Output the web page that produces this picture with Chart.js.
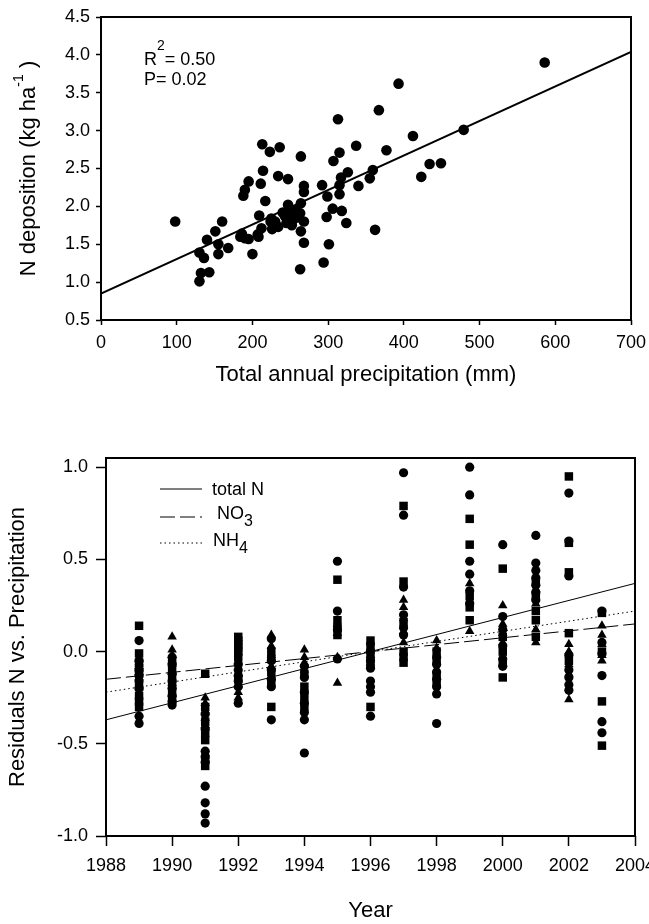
<!DOCTYPE html>
<html>
<head>
<meta charset="utf-8">
<script src="https://cdn.jsdelivr.net/npm/chart.js@4.4.1/dist/chart.umd.min.js"></script>
<style>
  body { margin: 0; background: #fff; }
  canvas { position: absolute; left: 0; }
  #top { top: 0; }
  #bottom { top: 420px; }
</style>
</head>
<body>
<canvas id="top" width="649" height="400"></canvas>
<canvas id="bottom" width="649" height="504"></canvas>
<script>
// upper panel: N deposition vs annual precipitation
const precip = [98, 213, 223, 236, 264, 313, 367, 337, 377, 315, 307, 214, 195, 211, 234, 247,
  190, 188, 217, 268, 268, 292, 326, 317, 315, 359, 355, 340, 299, 315, 247, 264, 209, 225,
  234, 243, 252, 261, 268, 252, 264, 268, 306, 298, 318, 324, 362, 301, 294, 263, 200, 186,
  195, 208, 212, 184, 160, 151, 140, 155, 168, 155, 130, 136, 143, 132, 130, 586, 393, 479,
  412, 434, 449, 423, 230, 240, 257, 226, 258, 245, 190, 207, 250, 263, 224];
const deposition = [1.80, 2.82, 2.72, 2.78, 2.66, 3.15, 3.27, 2.80, 2.74, 2.71, 2.60, 2.47, 2.33,
  2.30, 2.40, 2.36, 2.22, 2.14, 2.07, 2.27, 2.19, 2.28, 2.45, 2.38, 2.28, 2.48, 2.37, 2.27,
  2.13, 2.16, 2.02, 2.04, 1.88, 1.84, 1.73, 1.87, 1.80, 1.89, 1.80, 1.75, 1.67, 1.52, 1.97,
  1.86, 1.94, 1.78, 1.69, 1.50, 1.26, 1.17, 1.37, 1.64, 1.57, 1.60, 1.71, 1.60, 1.80, 1.67,
  1.56, 1.50, 1.45, 1.37, 1.39, 1.32, 1.13, 1.12, 1.01, 3.90, 3.62, 3.01, 2.93, 2.56, 2.57,
  2.39, 1.80, 1.92, 1.95, 1.70, 1.85, 1.78, 1.58, 1.63, 1.93, 1.91, 1.80];
const fitX = [0, 700];
const fitY = [0.85, 4.04];
const precipTicks = [0, 100, 200, 300, 400, 500, 600, 700];
const depositionTicks = [0.5, 1.0, 1.5, 2.0, 2.5, 3.0, 3.5, 4.0, 4.5];

// lower panel: residuals by year (one list per year)
const years = [1989, 1990, 1991, 1992, 1993, 1994, 1995, 1996, 1997, 1998, 1999, 2000, 2001, 2002, 2003];
const residTotalN = [
  [0.06, -0.05, -0.10, -0.13, -0.16, -0.20, -0.35, -0.39],
  [-0.03, -0.07, -0.12, -0.16, -0.20, -0.24, -0.27, -0.29],
  [-0.34, -0.42, -0.54, -0.57, -0.60, -0.73, -0.82, -0.88, -0.93],
  [-0.07, -0.10, -0.13, -0.16, -0.19, -0.28],
  [0.07, -0.05, -0.10, -0.15, -0.19, -0.37],
  [-0.08, -0.14, -0.22, -0.28, -0.33, -0.37, -0.55],
  [0.49, 0.22, 0.12, -0.04],
  [0.0, -0.05, -0.09, -0.16, -0.19, -0.22, -0.35],
  [0.97, 0.74, 0.35, 0.20, 0.13, 0.09],
  [-0.03, -0.07, -0.11, -0.15, -0.19, -0.23, -0.39],
  [1.0, 0.85, 0.49, 0.42, 0.33, 0.26],
  [0.58, 0.19, 0.12, 0.03, -0.04, -0.08],
  [0.63, 0.48, 0.44, 0.40, 0.36, 0.32, 0.28],
  [0.86, 0.60, 0.41, -0.02, -0.10, -0.14, -0.18, -0.21],
  [0.22, 0.05, -0.01, -0.13, -0.38, -0.44]
];
const residNO3 = [
  [0.14, -0.01, -0.06, -0.09, -0.12, -0.19, -0.24, -0.27, -0.30],
  [-0.06, -0.10, -0.14, -0.18, -0.22, -0.26],
  [-0.12, -0.30, -0.38, -0.44, -0.48, -0.58, -0.62],
  [0.08, 0.06, 0.04, 0.02, 0.0, -0.03, -0.15],
  [0.0, -0.04, -0.11, -0.17, -0.30],
  [-0.12, -0.19, -0.25, -0.30],
  [0.39, 0.17, 0.13, 0.09],
  [0.06, 0.03, -0.03, -0.07, -0.30],
  [0.79, 0.38, 0.16, 0.0, -0.03, -0.06],
  [0.0, -0.05, -0.13, -0.17],
  [0.72, 0.58, 0.30, 0.24, 0.17],
  [0.45, 0.08, 0.0, -0.06, -0.14],
  [0.38, 0.30, 0.22, 0.17, 0.08],
  [0.95, 0.59, 0.43, 0.10, -0.05],
  [0.21, 0.0, -0.27, -0.51]
];
const residNH4 = [
  [-0.04, -0.08, -0.11, -0.14, -0.18],
  [0.08, 0.01, -0.02, -0.05, -0.11, -0.17, -0.23],
  [-0.25, -0.28, -0.32, -0.36, -0.40],
  [-0.05, -0.12, -0.18, -0.22, -0.25],
  [0.09, 0.03, -0.02, -0.08, -0.13],
  [0.01, -0.03, -0.06, -0.10],
  [0.15, 0.10, -0.03, -0.17],
  [0.05, 0.02, -0.02, -0.06],
  [0.28, 0.24, 0.18, 0.11, 0.05],
  [0.06, 0.02],
  [0.37, 0.28, 0.11],
  [0.25, 0.15, 0.10, 0.05],
  [0.34, 0.26, 0.12, 0.05],
  [0.04, 0.0, -0.07, -0.12, -0.26],
  [0.14, 0.09, 0.04, -0.02, -0.05]
];
const trendYears = [1988, 2004];
const trendTotalN = [-0.37, 0.37];
const trendNO3 = [-0.15, 0.15];
const trendNH4 = [-0.22, 0.22];
const yearTicks = [1988, 1990, 1992, 1994, 1996, 1998, 2000, 2002, 2004];
const residTicks = [-1.0, -0.5, 0.0, 0.5, 1.0];

const FONT = '"Liberation Sans", Arial, sans-serif';

function pts(xs, ys) {
  return xs.map((x, i) => ({ x: x, y: ys[i] }));
}
function byYear(lists) {
  const out = [];
  lists.forEach((vals, i) => vals.forEach(v => out.push({ x: years[i], y: v })));
  return out;
}

// text with sub/superscript pieces, drawn left to right
function richText(ctx, parts, x, y, size) {
  let cx = x;
  parts.forEach(p => {
    ctx.font = (p.size || size) + 'px ' + FONT;
    ctx.fillText(p.t, cx, y + (p.dy || 0));
    cx += ctx.measureText(p.t).width;
  });
}
function richWidth(ctx, parts, size) {
  let w = 0;
  parts.forEach(p => {
    ctx.font = (p.size || size) + 'px ' + FONT;
    w += ctx.measureText(p.t).width;
  });
  return w;
}

const frame = {
  id: 'frame',
  afterDatasetsDraw(chart) {
    const { ctx, chartArea: a } = chart;
    ctx.save();
    ctx.strokeStyle = '#000';
    ctx.lineWidth = 2;
    ctx.strokeRect(a.left, a.top, a.right - a.left, a.bottom - a.top);
    ctx.restore();
  }
};

function axis(ticks, fmt, tickLen, pad, fitSize, horizontal, title) {
  return {
    type: 'linear',
    min: ticks[0],
    max: ticks[ticks.length - 1],
    afterBuildTicks: s => { s.ticks = ticks.map(v => ({ value: v })); },
    afterFit: s => {
      if (horizontal) { s.height = fitSize; s.paddingLeft = 0; s.paddingRight = 0; }
      else { s.width = fitSize; s.paddingTop = 0; s.paddingBottom = 0; }
    },
    border: { display: false },
    grid: { drawOnChartArea: false, drawTicks: true, tickLength: tickLen, tickColor: '#000', tickWidth: 1.5 },
    ticks: { color: '#000', font: { family: FONT, size: 18 }, padding: pad, autoSkip: false, maxRotation: 0, callback: fmt },
    title: title
  };
}

// ---- upper chart
const topExtras = {
  id: 'topExtras',
  afterDraw(chart) {
    const { ctx, chartArea: a } = chart;
    ctx.save();
    ctx.fillStyle = '#000';
    ctx.textBaseline = 'alphabetic';
    ctx.textAlign = 'left';
    richText(ctx, [{ t: 'R' }, { t: '2', size: 14, dy: -15 }, { t: '= 0.50' }], a.left + 43, a.top + 48, 18);
    richText(ctx, [{ t: 'P= 0.02' }], a.left + 43, a.top + 68, 18);
    // y title with superscript
    const parts = [{ t: 'N deposition (kg ha' }, { t: '-1', size: 14, dy: -12 }, { t: ' )' }];
    const w = richWidth(ctx, parts, 22);
    ctx.translate(35, (a.top + a.bottom) / 2);
    ctx.rotate(-Math.PI / 2);
    richText(ctx, parts, -w / 2, 0, 22);
    ctx.restore();
  }
};

new Chart(document.getElementById('top'), {
  type: 'scatter',
  data: {
    datasets: [
      {
        data: pts(precip, deposition),
        pointStyle: 'circle', pointRadius: 5.3, pointHoverRadius: 5.3,
        backgroundColor: '#000', borderColor: '#000', borderWidth: 0
      },
      {
        data: pts(fitX, fitY),
        showLine: true, pointRadius: 0, borderColor: '#000', borderWidth: 2
      }
    ]
  },
  options: {
    responsive: false,
    animation: false,
    devicePixelRatio: 1,
    layout: { padding: { top: 17, right: 18, left: 0, bottom: 0 } },
    plugins: { legend: { display: false }, tooltip: { enabled: false } },
    scales: {
      x: axis(precipTicks, v => String(v), 5, 7, 80, true,
        { display: true, text: 'Total annual precipitation (mm)', color: '#000',
          font: { family: FONT, size: 22 }, padding: { top: 0, bottom: 12 } }),
      y: axis(depositionTicks, v => v.toFixed(1), 5, 6, 101, false, { display: false })
    }
  },
  plugins: [frame, topExtras]
});

// ---- lower chart
const bottomLegend = {
  id: 'bottomLegend',
  afterDraw(chart) {
    const { ctx, chartArea: a } = chart;
    const x0 = a.left + 54, x1 = a.left + 96;
    const rows = [
      { y: 69, dash: [], parts: [{ t: 'total N' }], tx: a.left + 106, base: 75 },
      { y: 97, dash: [15, 5], parts: [{ t: ' NO' }, { t: '3', size: 16, dy: 7 }], tx: a.left + 106, base: 99 },
      { y: 123, dash: [1.5, 3], parts: [{ t: 'NH' }, { t: '4', size: 16, dy: 7 }], tx: a.left + 107, base: 126 }
    ];
    ctx.save();
    ctx.strokeStyle = '#000';
    ctx.fillStyle = '#000';
    ctx.lineWidth = 1;
    rows.forEach(r => {
      ctx.setLineDash(r.dash);
      ctx.beginPath();
      ctx.moveTo(x0, r.y);
      ctx.lineTo(x1, r.y);
      ctx.stroke();
      ctx.textBaseline = 'alphabetic';
      ctx.textAlign = 'left';
      richText(ctx, r.parts, r.tx, r.base, 18);
    });
    ctx.restore();
  }
};

function marker(data, style, radius) {
  return {
    data: data, pointStyle: style, pointRadius: radius, pointHoverRadius: radius,
    backgroundColor: '#000', borderColor: '#000', borderWidth: 0
  };
}
function trend(ys, dash) {
  return {
    data: pts(trendYears, ys), showLine: true, pointRadius: 0,
    borderColor: '#000', borderWidth: 1, borderDash: dash
  };
}

new Chart(document.getElementById('bottom'), {
  type: 'scatter',
  data: {
    datasets: [
      marker(byYear(residNH4), 'triangle', 5.5),
      marker(byYear(residNO3), 'rect', 6),
      marker(byYear(residTotalN), 'circle', 4.6),
      trend(trendTotalN, []),
      trend(trendNO3, [15, 5]),
      trend(trendNH4, [1.5, 3])
    ]
  },
  options: {
    responsive: false,
    animation: false,
    devicePixelRatio: 1,
    layout: { padding: { top: 38, right: 14, left: 0, bottom: 0 } },
    plugins: { legend: { display: false }, tooltip: { enabled: false } },
    scales: {
      x: axis(yearTicks, v => String(v), 10, 9, 88, true,
        { display: true, text: 'Year', color: '#000',
          font: { family: FONT, size: 22 }, padding: { top: 0, bottom: 0 } }),
      y: Object.assign(axis(residTicks, v => v.toFixed(1), 10, 8, 106, false,
        { display: true, text: 'Residuals N vs. Precipitation', color: '#000',
          font: { family: FONT, size: 22 }, padding: { top: 5, bottom: 0 } }), { max: 1.05 })
    }
  },
  plugins: [frame, bottomLegend]
});
</script>
</body>
</html>
